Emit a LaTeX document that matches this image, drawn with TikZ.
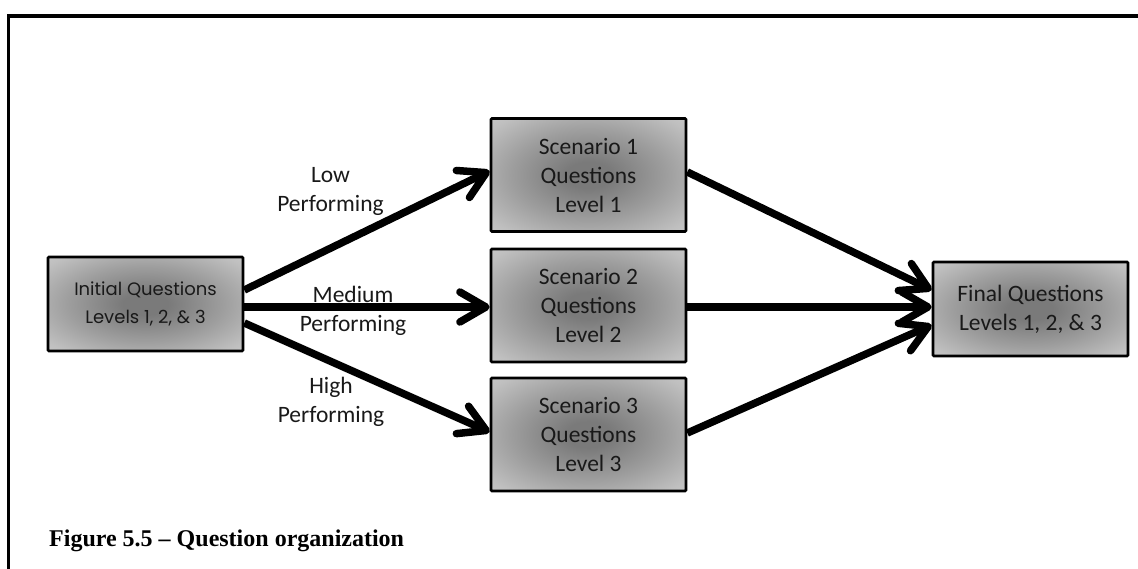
\documentclass[tikz,border=0pt]{standalone}
\usepackage{fontspec}
\usetikzlibrary{arrows.meta,calc}
\newfontfamily\calib{Carlito}
\newfontfamily\capfont{Liberation Serif}
\newfontfamily\gothic{Poppins}
\definecolor{shc}{gray}{0.48}
\definecolor{shm}{gray}{0.62}
\definecolor{she}{gray}{0.75}
\definecolor{shf}{gray}{0.84}
\definecolor{shk}{gray}{0.90}
\definecolor{txt}{gray}{0.10}
\pgfdeclareradialshading{boxshade}{\pgfpoint{0bp}{0bp}}{color(0bp)=(shc); color(6bp)=(shc); color(20bp)=(shm); color(32bp)=(she); color(45bp)=(shf); color(72bp)=(shk)}
\tikzset{
  qbox/.style={draw=black, line width=2.7pt, shading=boxshade, rounded corners=1pt,
    align=center, text=txt, inner sep=0pt},
  calfont/.style={font=\fontsize{23.5}{29}\calib},
  flow/.style={line width=7.5pt, draw=black,
    -{Straight Barb[length=26pt,width=30pt,line join=round,line cap=round]}},
  lbl/.style={calfont, align=center, text=txt, inner sep=0pt}
}
\begin{document}
\begin{tikzpicture}[x=1pt,y=-1pt]
\useasboundingbox (0,0) rectangle (1138,569);
% frame
\draw[line width=3.3pt] (8.7,575) -- (8.7,16) -- (1145,16);
% boxes
\node[qbox, minimum width=195pt, minimum height=94pt, font=\fontsize{18}{28}\gothic] (init) at (145.5,304) {Initial Questions\\Levels 1, 2, \& 3};
\node[qbox, calfont, minimum width=195pt, minimum height=113pt] (s1) at (588.5,175) {Scenario 1\\Questions\\Level 1};
\node[qbox, calfont, minimum width=195pt, minimum height=113pt] (s2) at (588.5,305.5) {Scenario 2\\Questions\\Level 2};
\node[qbox, calfont, minimum width=195pt, minimum height=113pt] (s3) at (588.5,434.5) {Scenario 3\\Questions\\Level 3};
\node[qbox, calfont, minimum width=195pt, minimum height=94pt] (fin) at (1030.5,309) {Final Questions\\Levels 1, 2, \& 3};
% arrows
\draw[flow] ($(init.east)+(0,-14)$) -- ($(s1.west)+(0,-4)$);
\draw[flow] ($(init.east)+(0,3)$) -- ($(s2.west)+(0,1.5)$);
\draw[flow] ($(init.east)+(0,19)$) -- ($(s3.west)+(0,-2.5)$);
\draw[flow] ($(s1.east)+(0,-3)$) -- ($(fin.west)+(0,-19)$);
\draw[flow] ($(s2.east)+(0,1.5)$) -- ($(fin.west)+(0,-2)$);
\draw[flow] ($(s3.east)+(0,-1.5)$) -- ($(fin.west)+(0,16)$);
% labels (base = baseline of last line)
\node[lbl, anchor=base] (low) at (330.5,212) {Low\\Performing};
\node[lbl, anchor=base] (med) at (353,332) {Medium\\Performing};
\node[lbl, anchor=base] (high) at (331,422) {High\\Performing};
% caption
\node[anchor=base west, inner sep=0pt, font=\fontsize{24}{28}\capfont\bfseries] (cap) at (49,546) {Figure 5.5 – Question organization};
\end{tikzpicture}
\end{document}
